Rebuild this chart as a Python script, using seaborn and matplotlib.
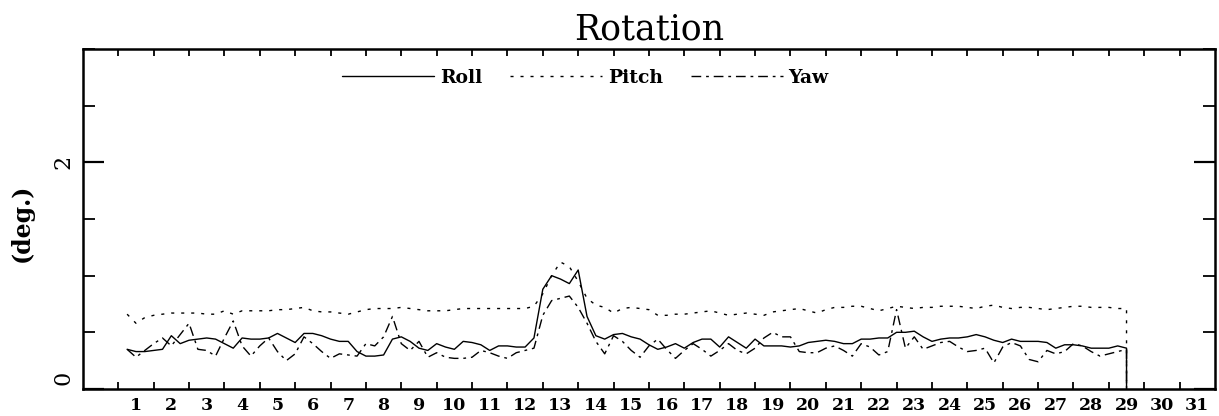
import numpy as np
import pandas as pd
import seaborn as sns
import matplotlib
matplotlib.use('Agg')
import matplotlib.pyplot as plt
from matplotlib.ticker import MultipleLocator, FixedLocator
from matplotlib.transforms import ScaledTranslation

# sample times (days), 4 per day, last sample repeated where the record drops to 0
t = np.append(np.arange(1.25, 29.75, 0.25), 29.5)

roll = [0.35, 0.33, 0.33,
        0.34, 0.35, 0.47, 0.40,  0.43, 0.44, 0.45, 0.44,  0.40, 0.36, 0.45, 0.44,
        0.44, 0.45, 0.49, 0.45,  0.41, 0.49, 0.49, 0.47,  0.44, 0.42, 0.42, 0.33,
        0.29, 0.29, 0.30, 0.44,  0.46, 0.42, 0.36, 0.34,  0.40, 0.37, 0.35, 0.42,
        0.41, 0.39, 0.34, 0.38,  0.38, 0.37, 0.37, 0.45,  0.88, 1.00, 0.97, 0.93,
        1.05, 0.64, 0.47, 0.44,  0.48, 0.49, 0.46, 0.44,  0.39, 0.35, 0.37, 0.40,
        0.36, 0.41, 0.44, 0.44,  0.37, 0.46, 0.41, 0.36,  0.44, 0.38, 0.38, 0.38,
        0.37, 0.38, 0.41, 0.42,  0.43, 0.42, 0.40, 0.40,  0.44, 0.44, 0.45, 0.45,
        0.50, 0.50, 0.51, 0.46,  0.42, 0.44, 0.45, 0.45,  0.46, 0.48, 0.46, 0.43,
        0.41, 0.44, 0.42, 0.42,  0.42, 0.41, 0.36, 0.39,  0.39, 0.38, 0.36, 0.36,
        0.36, 0.38, 0.36, 0.0]

pitch = [0.66, 0.58, 0.63,
         0.65, 0.66, 0.67, 0.67,  0.67, 0.67, 0.66, 0.66,  0.69, 0.66, 0.69, 0.69,
         0.69, 0.69, 0.70, 0.70,  0.71, 0.72, 0.69, 0.68,  0.68, 0.67, 0.66, 0.68,
         0.70, 0.71, 0.71, 0.71,  0.72, 0.71, 0.70, 0.69,  0.69, 0.69, 0.70, 0.71,
         0.71, 0.71, 0.71, 0.71,  0.71, 0.71, 0.71, 0.73,  0.84, 1.00, 1.12, 1.08,
         0.95, 0.80, 0.74, 0.72,  0.67, 0.71, 0.72, 0.71,  0.70, 0.65, 0.65, 0.66,
         0.66, 0.67, 0.68, 0.69,  0.67, 0.65, 0.66, 0.67,  0.66, 0.65, 0.68, 0.69,
         0.70, 0.71, 0.69, 0.67,  0.70, 0.72, 0.72, 0.73,  0.73, 0.71, 0.69, 0.71,
         0.73, 0.72, 0.71, 0.72,  0.72, 0.73, 0.73, 0.73,  0.72, 0.71, 0.73, 0.74,
         0.72, 0.71, 0.72, 0.72,  0.71, 0.70, 0.71, 0.72,  0.73, 0.73, 0.72, 0.72,
         0.72, 0.71, 0.71, 0.0]

yaw = [0.35, 0.28, 0.34,
       0.40, 0.45, 0.38, 0.48,  0.58, 0.35, 0.34, 0.29,  0.45, 0.60, 0.38, 0.29,
       0.38, 0.45, 0.33, 0.25,  0.31, 0.46, 0.40, 0.33,  0.27, 0.31, 0.30, 0.29,
       0.40, 0.38, 0.46, 0.64,  0.40, 0.34, 0.42, 0.28,  0.32, 0.28, 0.27, 0.27,
       0.28, 0.34, 0.32, 0.29,  0.27, 0.32, 0.34, 0.36,  0.65, 0.78, 0.80, 0.82,
       0.72, 0.58, 0.42, 0.31,  0.47, 0.42, 0.34, 0.28,  0.38, 0.44, 0.35, 0.27,
       0.34, 0.40, 0.35, 0.29,  0.34, 0.40, 0.34, 0.31,  0.36, 0.45, 0.50, 0.46,
       0.46, 0.33, 0.32, 0.32,  0.36, 0.38, 0.34, 0.29,  0.40, 0.37, 0.30, 0.33,
       0.70, 0.36, 0.46, 0.35,  0.38, 0.41, 0.42, 0.37,  0.33, 0.34, 0.36, 0.23,
       0.37, 0.41, 0.38, 0.26,  0.24, 0.34, 0.31, 0.33,  0.40, 0.38, 0.33, 0.29,
       0.31, 0.33, 0.35, 0.0]

days = list(range(1, 32))
day_labels = [str(d) for d in days]
y_ticks = [0, 2]
y_labels = ['0', '2']

sns.set_style('white')
plt.rcParams['font.family'] = ['DejaVu Serif']
for k in ['text.color', 'axes.labelcolor', 'xtick.color', 'ytick.color']:
    plt.rcParams[k] = 'black'

fig = plt.figure(figsize=(12.19, 4.16), dpi=100)
ax = fig.add_axes([0.068, 0.065, 0.9287, 0.817])

df = pd.DataFrame({'t': t, 'Roll': roll, 'Pitch': pitch, 'Yaw': yaw})
sns.lineplot(data=df, x='t', y='Roll', ax=ax, color='black', lw=1.0,
             estimator=None, sort=False, label='Roll')
sns.lineplot(data=df, x='t', y='Pitch', ax=ax, color='black', lw=1.0,
             linestyle=(0, (2.2, 5.0)), estimator=None, sort=False, label='Pitch')
sns.lineplot(data=df, x='t', y='Yaw', ax=ax, color='black', lw=1.0,
             linestyle=(0, (7, 3.5, 2, 3.5)), estimator=None, sort=False, label='Yaw')

ax.set_xlim(0, 32)
ax.set_ylim(0, 3)

# x: ticks at day boundaries, labels centred in each day
ax.xaxis.set_major_locator(FixedLocator(days))
ax.xaxis.set_minor_locator(FixedLocator([d + 0.5 for d in days]))
ax.set_xticklabels([], minor=False)
ax.set_xticklabels(day_labels, minor=True, fontsize=12.5, fontweight='bold')
ax.tick_params(axis='x', which='major', direction='in', length=5, width=1.3,
               top=True, bottom=True, color='black')
ax.tick_params(axis='x', which='minor', length=0, pad=6)

# y: labelled every 2, minor every 0.5
ax.set_yticks(y_ticks)
ax.set_yticklabels(y_labels, rotation=90, va='center', fontsize=16)
ax.yaxis.set_minor_locator(MultipleLocator(0.5))
ax.tick_params(axis='y', which='major', direction='in', length=15, width=1.6,
               left=True, right=True, pad=6, color='black')
ax.tick_params(axis='y', which='minor', direction='in', length=8.5, width=1.3,
               left=True, right=True, color='black')
zero_lab = ax.get_yticklabels()[0]
zero_lab.set_transform(zero_lab.get_transform() +
                       ScaledTranslation(0, 11 / 100, fig.dpi_scale_trans))

ax.set_xlabel('')
ax.set_ylabel('(deg.)', fontsize=17, fontweight='bold')
ax.yaxis.set_label_coords(-0.043, 0.49)

ax.set_title('Rotation', fontsize=25, pad=7)

for s in ax.spines.values():
    s.set_color('black')
    s.set_linewidth(1.8)

ax.legend(loc='center', bbox_to_anchor=(0.444, 0.915), ncol=3, frameon=False,
          handlelength=4.9, handletextpad=0.3, columnspacing=1.5,
          prop={'size': 13.5, 'weight': 'bold'})

fig.savefig('out.png', dpi=100)
